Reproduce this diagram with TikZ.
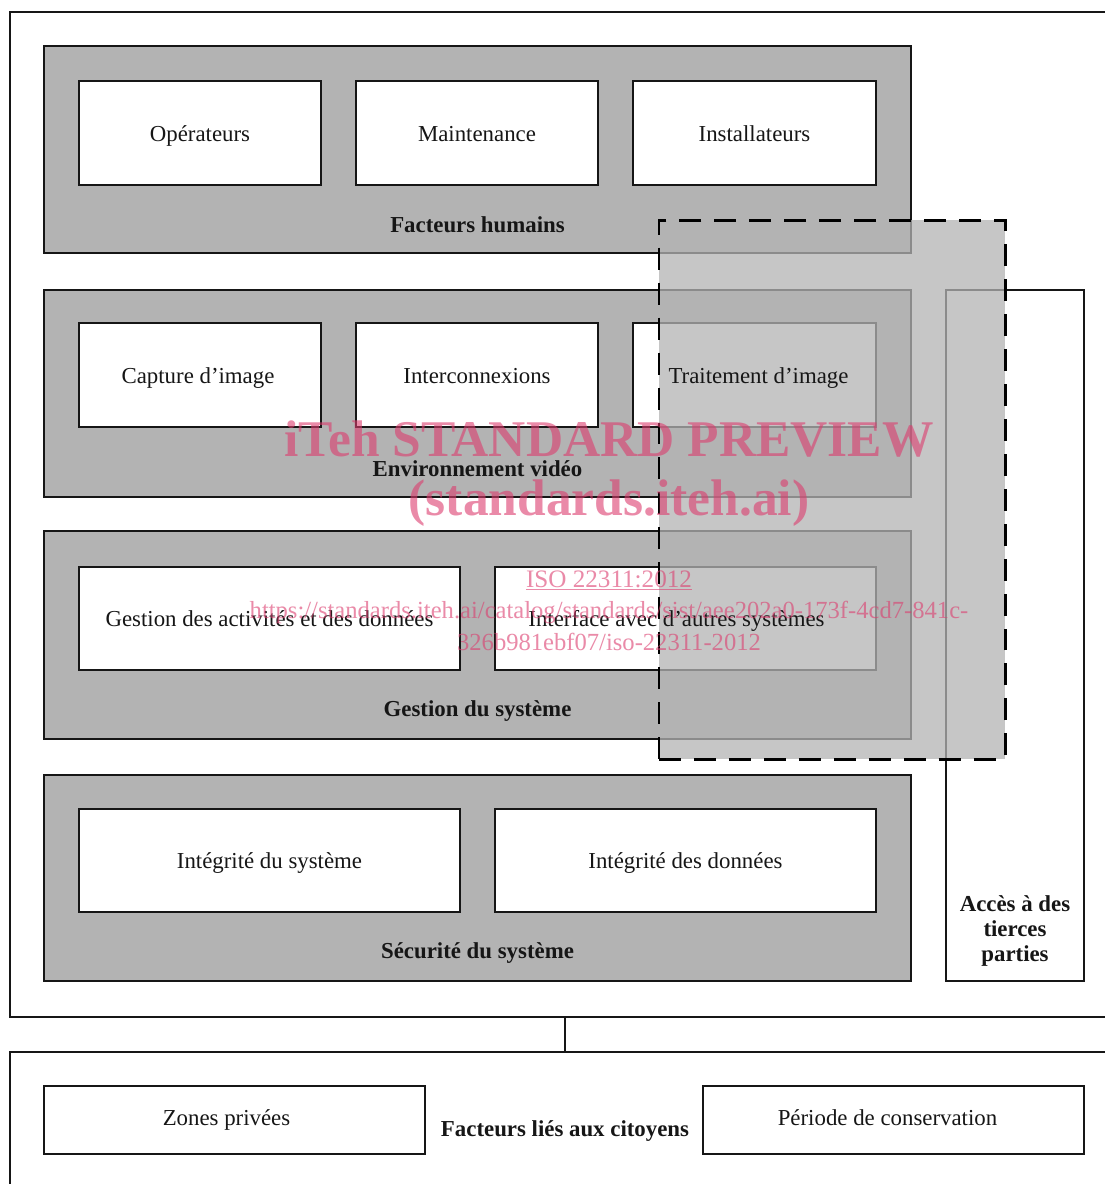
\documentclass[tikz,border=0pt]{standalone}
\usepackage{fontspec}
\setmainfont{Liberation Serif}
\usetikzlibrary{fit}
\definecolor{grisgroupe}{RGB}{179,179,179}
\definecolor{rosewm}{RGB}{220,60,110}
\definecolor{encre}{RGB}{22,22,22}

\begin{document}
\begin{tikzpicture}[x=0.02cm,y=-0.02cm,
	every node/.style={font=\fontsize{13}{15}\selectfont, text=encre},
	cadre/.style={draw=encre, line width=1.6pt, inner sep=0pt},
	groupe/.style={draw=encre, fill=grisgroupe, line width=1.1pt, inner sep=0pt},
	boite/.style={draw=encre, fill=white, line width=1.1pt, inner sep=0pt},
	zone/.style={draw=black, dash pattern=on 12.5pt off 7.4pt, line width=1.7pt,
		fill=grisgroupe, fill opacity=0.75, inner sep=0pt},
	titre/.style={font=\bfseries\fontsize{13}{14.5}\selectfont},
	filigrane/.style={text=rosewm, text opacity=0.6, anchor=base}]
			\useasboundingbox (0,0) rectangle (1105,1184);
			\clip (0,0) rectangle (1105,1184);
			% cadres
			\node[cadre, fit={(10,12) (1130,1017)}] (cadre) {};
			\node[cadre, fit={(10,1052) (1130,1210)}] (cadrebas) {};
			%
			\def\groupes {humains/46/253, video/290/497, gestion/531/739, securite/775/981}  % list elements
			\foreach \nom/\ya/\yb in \groupes
			{	\node[groupe, fit={(44,\ya) (911,\yb)}] (\nom) {};
			}
			\def\boites {oper/79/81/321/185, maint/356/81/598/185, instal/633/81/876/185,
				capture/79/323/321/427, inter/356/323/598/427, trait/633/323/876/427,
				activ/79/567/460/670, iface/495/567/876/670,
				intsys/79/809/460/912, intdon/495/809/876/912,
				acces/946/290/1084/981, zones/44/1086/425/1154, periode/703/1086/1084/1154}  % list elements
			\foreach \nom/\xa/\ya/\xb/\yb in \boites
			{	\node[boite, fit={(\xa,\ya) (\xb,\yb)}] (\nom) {};
			}
			
			\node[zone, fit={(659,220) (1005,759)}] (tiers) {};
			
			\def\textes {oper/Opérateurs/0/-0.16, maint/Maintenance/0/-0.16, instal/Installateurs/0/-0.16,
				capture/Capture d’image/-0.04/-0.16, inter/Interconnexions/0/-0.16, trait/Traitement d’image/0.08/-0.16,
				activ/Gestion des activités et des données/0/-0.16, iface/Interface avec d’autres systèmes/-0.18/-0.16,
				intsys/Intégrité du système/0/-0.16, intdon/Intégrité des données/0/-0.16,
				zones/Zones privées/-0.16/-0.10, periode/Période de conservation/-0.12/-0.10}  % list elements
			\foreach \nom/\texte/\dx/\dy in \textes
			{	\node[anchor=base] (\nom-t) at ([xshift=\dx cm, yshift=\dy cm]\nom.center) {\texte};
			}
			\def\titres {humains/Facteurs humains, video/Environnement vidéo,
				gestion/Gestion du système, securite/Sécurité du système}  % list elements
			\foreach \nom/\texte in \titres
			{	\node[titre] (\nom-t) at ([yshift=0.58cm]\nom.south) {\texte};
			}
			\node[titre, align=center] (acces-t) at ([yshift=1.02cm]acces.south) {Accès à des\\tierces\\parties};
			\node[titre] (citoyens) at (565,1131) {Facteurs liés aux citoyens};
			\draw[encre, line width=1.1pt] (cadre.south -| citoyens) -- (cadrebas.north -| citoyens);
			
			% filigrane
			\node[filigrane, font=\bfseries\fontsize{29.3}{30}\selectfont] (wm1) at (609,456) {iTeh STANDARD PREVIEW};
			\node[filigrane, font=\bfseries\fontsize{29.3}{30}\selectfont] (wm2) at (609,515) {(standards.iteh.ai)};
			\node[filigrane, font=\fontsize{14.3}{17}\selectfont] (wm3) at (609,587) {\underline{ISO 22311:2012}};
			\node[filigrane, font=\fontsize{14}{17}\selectfont] (wm4) at (609,618) {https://standards.iteh.ai/catalog/standards/sist/aee202a0-173f-4cd7-841c-};
			\node[filigrane, font=\fontsize{14}{17}\selectfont] (wm5) at (609,650) {326b981ebf07/iso-22311-2012};
		\end{tikzpicture}
\end{document}
